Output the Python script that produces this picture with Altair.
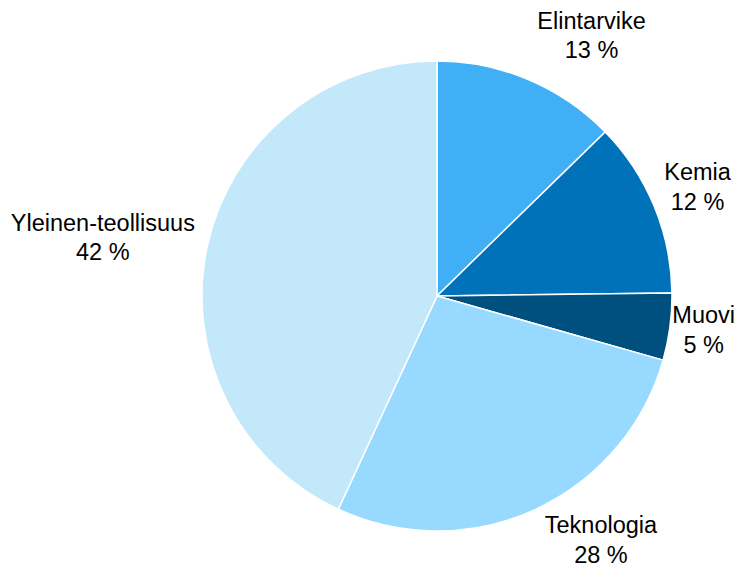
import altair as alt
import pandas as pd

# Data
categories = ["Elintarvike", "Kemia", "Muovi", "Teknologia", "Yleinen-teollisuus"]
shares = [12.7, 12.1, 4.6, 27.5, 43.1]          # slice sizes
label_pct = [13, 12, 5, 28, 42]                  # printed percentages
colors = ["#41AFF5", "#0072BA", "#00507F", "#98D9FF", "#C2E8FA"]

# Label layout (styling): angle shift in share units and radius in px
label_shift = [2.2, 0.0, 0.0, -2.53, -0.76]
label_radius = [302, 282, 269, 295, 339]

df = pd.DataFrame({
    "cat": categories,
    "value": shares,
    "idx": list(range(len(categories))),
    "label": [f"{c}\n{p} %" for c, p in zip(categories, label_pct)],
    "shift": label_shift,
    "lr": label_radius,
})

CX, CY, R = 429, 288, 235
total = sum(shares)

base = alt.Chart(df)

pie = base.mark_arc(radius=R, stroke="white", strokeWidth=1.5).encode(
    theta=alt.Theta("value:Q", stack=True, scale=alt.Scale(domain=[0, total])),
    order=alt.Order("idx:Q", sort="ascending"),
    color=alt.Color("cat:N", scale=alt.Scale(domain=categories, range=colors), legend=None),
    x=alt.value(CX),
    y=alt.value(CY),
)

labels = base.transform_window(
    cum="sum(value)", sort=[alt.SortField("idx", order="ascending")]
).transform_calculate(
    mid="datum.cum - datum.value / 2 + datum.shift"
).mark_text(
    font="Liberation Sans", fontSize=23.5, lineBreak="\n", lineHeight=29.5,
    align="center", baseline="middle", color="black", dy=-15
).encode(
    theta=alt.Theta("mid:Q", stack=False, scale=alt.Scale(domain=[0, total])),
    radius=alt.Radius("lr:Q", scale=None),
    text="label:N",
    x=alt.value(CX),
    y=alt.value(CY),
)

chart = alt.layer(pie, labels).properties(
    width=728, height=560, padding=0, background="white",
    autosize=alt.AutoSizeParams(type="none"),
).configure_view(strokeWidth=0, stroke="transparent")

chart.save("out.html", embed_options={"renderer": "svg", "actions": False})
